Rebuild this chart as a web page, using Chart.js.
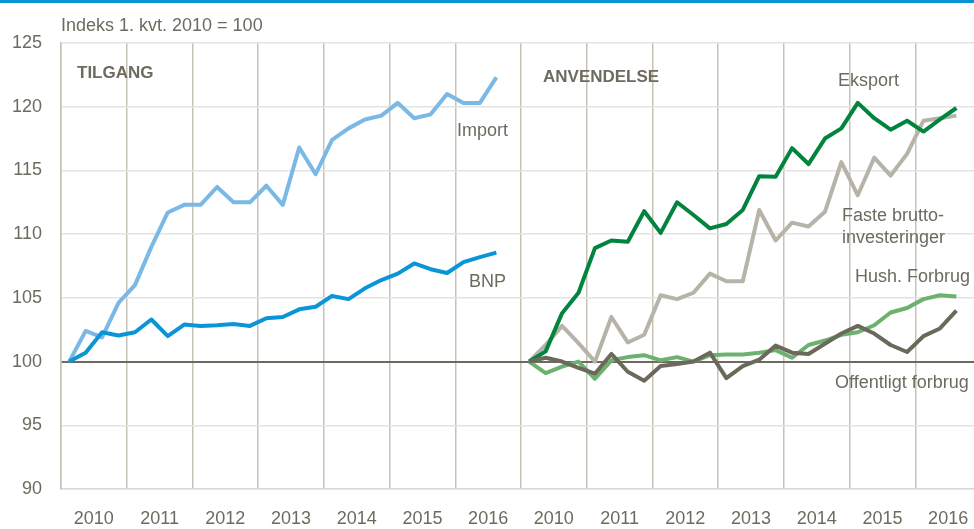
<!DOCTYPE html>
<html>
<head>
<meta charset="utf-8">
<script src="https://cdn.jsdelivr.net/npm/chart.js@4.4.1/dist/chart.umd.min.js"></script>
<style>
  html, body { margin: 0; padding: 0; background: #fff; overflow: hidden; }
  #wrap { position: relative; width: 974px; height: 529px; overflow: hidden; }
  canvas { display: block; }
</style>
</head>
<body>
<div id="wrap"><canvas id="chart" width="1000" height="529"></canvas></div>
<script>
// Years shown under each panel (quarterly data, 1. kvt. 2010 - 3. kvt. 2016)
const years = ['2010', '2011', '2012', '2013', '2014', '2015', '2016'];

// TILGANG
const importVals = [100, 102.4, 101.9, 104.6, 106.0, 109.0, 111.7, 112.3, 112.3, 113.7, 112.5, 112.5, 113.8,
  112.3, 116.8, 114.7, 117.4, 118.3, 119.0, 119.3, 120.3, 119.1, 119.4, 121.0, 120.3, 120.3, 122.3];
const bnpVals = [100, 100.7, 102.3, 102.05, 102.3, 103.3, 102.0, 102.9, 102.8, 102.85, 102.95, 102.8, 103.4,
  103.5, 104.1, 104.3, 105.15, 104.9, 105.75, 106.4, 106.9, 107.7, 107.25, 106.95, 107.8, 108.2, 108.55];

// ANVENDELSE
const eksportVals = [100, 100.8, 103.8, 105.4, 108.9, 109.5, 109.4, 111.8, 110.1, 112.5, 111.5, 110.45, 110.8,
  111.9, 114.55, 114.5, 116.75, 115.5, 117.5, 118.3, 120.3, 119.1, 118.2, 118.9, 118.05, 119.0, 119.9];
const fasteVals = [100, 101.3, 102.8, 101.45, 100.0, 103.5, 101.5, 102.1, 105.2, 104.9, 105.4, 106.9, 106.3,
  106.3, 111.9, 109.5, 110.9, 110.6, 111.75, 115.65, 113.05, 116.0, 114.6, 116.3, 118.9, 119.1, 119.3];
const hushVals = [100, 99.1, 99.6, 100.0, 98.65, 100.1, 100.35, 100.5, 100.1, 100.35, 100.0, 100.5, 100.55,
  100.55, 100.7, 100.9, 100.3, 101.3, 101.65, 102.1, 102.3, 102.85, 103.85, 104.2, 104.9, 105.2, 105.1];
const offVals = [100, 100.3, 100.0, 99.5, 99.05, 100.6, 99.2, 98.5, 99.65, 99.8, 100.0, 100.7, 98.7,
  99.65, 100.15, 101.25, 100.7, 100.6, 101.4, 102.2, 102.8, 102.2, 101.3, 100.75, 102.0, 102.6, 104.0];

const yTicks = [90, 95, 100, 105, 110, 115, 120, 125];

const textColor = '#6d6b5f';
const fontFamily = "'Liberation Sans', Arial, sans-serif";
const panelLength = years.length * 4;

function leftPanel(vals) {
  return vals.map((v, i) => ({ x: i, y: v }));
}
function rightPanel(vals) {
  return vals.map((v, i) => ({ x: panelLength + i, y: v }));
}
function line(label, data, color) {
  return {
    label: label,
    data: data,
    borderColor: color,
    backgroundColor: color,
    borderWidth: 4,
    pointRadius: 0,
    tension: 0,
    borderJoinStyle: 'round'
  };
}

// texts drawn on top of the chart
const annotations = [
  { text: 'Indeks 1. kvt. 2010 = 100', x: 61, y: 31, font: '18px ' + fontFamily },
  { text: 'TILGANG', x: 77, y: 78, font: 'bold 17px ' + fontFamily },
  { text: 'ANVENDELSE', x: 543, y: 82, font: 'bold 17px ' + fontFamily },
  { text: 'Import', x: 457, y: 136, font: '18px ' + fontFamily },
  { text: 'BNP', x: 469, y: 287, font: '18px ' + fontFamily },
  { text: 'Eksport', x: 838, y: 86, font: '18px ' + fontFamily },
  { text: 'Faste brutto-', x: 842, y: 221, font: '18px ' + fontFamily },
  { text: 'investeringer', x: 842, y: 243, font: '18px ' + fontFamily },
  { text: 'Hush. Forbrug', x: 855, y: 282, font: '18px ' + fontFamily },
  { text: 'Offentligt forbrug', x: 835, y: 388, font: '18px ' + fontFamily }
];

const textPlugin = {
  id: 'texts',
  afterDraw(chart) {
    const ctx = chart.ctx;
    ctx.save();
    ctx.fillStyle = '#0a93d3';
    ctx.fillRect(0, 0, chart.width, 3);
    ctx.fillStyle = textColor;
    ctx.textAlign = 'left';
    ctx.textBaseline = 'alphabetic';
    annotations.forEach(a => {
      ctx.font = a.font;
      ctx.fillText(a.text, a.x, a.y);
    });
    ctx.restore();
  }
};

new Chart(document.getElementById('chart'), {
  type: 'line',
  data: {
    datasets: [
      line('BNP', leftPanel(bnpVals), '#0a96d6'),
      line('Import', leftPanel(importVals), '#7ab8e6'),
      line('Offentligt forbrug', rightPanel(offVals), '#6b695c'),
      line('Eksport', rightPanel(eksportVals), '#00843e'),
      line('Hush. Forbrug', rightPanel(hushVals), '#6cb26e'),
      line('Faste bruttoinvesteringer', rightPanel(fasteVals), '#b6b4a8')
    ]
  },
  options: {
    responsive: false,
    animation: false,
    layout: { padding: { top: 43, right: 4, left: 0, bottom: 0 } },
    plugins: {
      legend: { display: false },
      tooltip: { enabled: false }
    },
    scales: {
      x: {
        type: 'linear',
        min: -0.5,
        max: panelLength * 2 - 0.5,
        afterBuildTicks(axis) {
          const t = [];
          for (let k = 0; k <= panelLength; k++) t.push({ value: -0.5 + 2 * k });
          axis.ticks = t;
        },
        afterFit(axis) { axis.height = 40; },
        grid: {
          color: ctx => (ctx.index % 2 === 0 ? '#c6c3b6' : 'rgba(0,0,0,0)'),
          lineWidth: 1.5,
          drawTicks: false
        },
        border: { color: '#d9d9d9', width: 1.5 },
        ticks: {
          autoSkip: false,
          maxRotation: 0,
          padding: 19,
          color: textColor,
          font: { size: 18, family: fontFamily },
          callback: (value, index) => (index % 2 === 1 ? years[((index - 1) / 2) % years.length] : '')
        }
      },
      y: {
        min: yTicks[0],
        max: yTicks[yTicks.length - 1],
        afterBuildTicks(axis) {
          axis.ticks = yTicks.map(v => ({ value: v }));
        },
        afterFit(axis) { axis.width = 61; },
        grid: {
          color: ctx => (ctx.tick && ctx.tick.value === 100 ? '#6d6b5f' : '#e3e3e3'),
          lineWidth: ctx => (ctx.tick && ctx.tick.value === 100 ? 2 : 1.5),
          drawTicks: false
        },
        border: { color: '#c6c3b6', width: 1.5 },
        ticks: {
          padding: 19,
          color: textColor,
          font: { size: 18, family: fontFamily }
        }
      }
    }
  },
  plugins: [textPlugin]
});
</script>
</body>
</html>
